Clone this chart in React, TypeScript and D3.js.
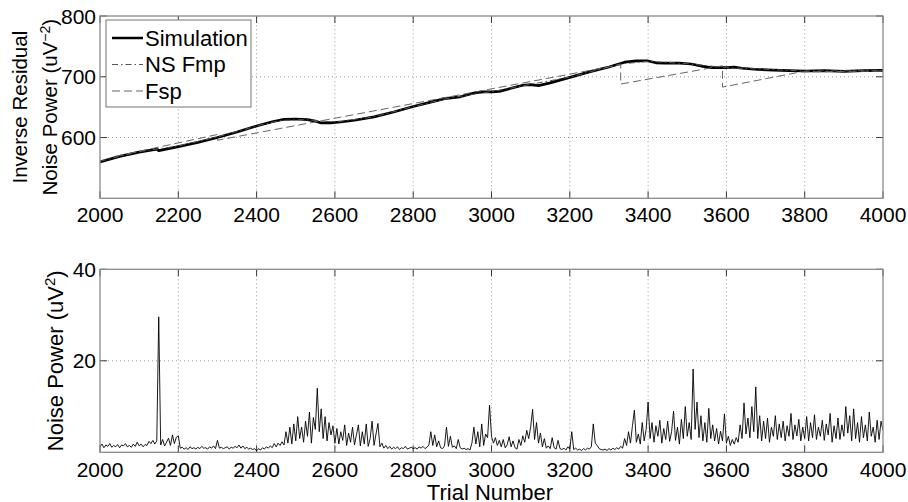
import React from 'react';
import * as d3 from 'd3';

const xTicks = [2000, 2200, 2400, 2600, 2800, 3000, 3200, 3400, 3600, 3800, 4000];
const topYTicks = [600, 700, 800];
const botYTicks = [20, 40];

const simTrials = [2000, 2050, 2100, 2145, 2150, 2200, 2250, 2300, 2350, 2400, 2440, 2470, 2500, 2530, 2550, 2565, 2590, 2620, 2650, 2700, 2750, 2800, 2850, 2880, 2920, 2960, 2980, 3000, 3020, 3050, 3080, 3100, 3120, 3150, 3200, 3250, 3300, 3340, 3370, 3400, 3420, 3440, 3480, 3510, 3540, 3560, 3580, 3600, 3620, 3640, 3680, 3720, 3760, 3800, 3850, 3900, 3950, 4000];
const simValues = [560, 569, 576, 581, 578.5, 585, 592, 600, 609, 619, 626, 630, 630.5, 629.5, 627, 624, 624, 626, 628.5, 634, 642, 651, 659, 664, 667, 674, 675, 675, 676, 681, 686, 687, 685.5, 690, 699, 708, 716, 724, 726, 726, 723, 722.5, 722.5, 721, 717, 715, 715.5, 715, 716, 714, 712, 711, 710, 709.5, 710, 709, 710, 710.5];

const nsFmpTrials = [2000, 2100, 2200, 2300, 2400, 2460, 2520, 2600, 2700, 2800, 2900, 3000, 3100, 3200, 3330, 3400, 3500, 3600, 3800, 4000];
const nsFmpValues = [561, 577, 586, 601, 619, 628, 629.5, 625.5, 634, 651, 666, 675.5, 687.5, 699.5, 721, 725.5, 721.5, 715, 709.5, 710];

const fspTrials = [2040, 2300, 2300, 3330, 3330, 3590, 3590, 3790, 4000];
const fspValues = [569, 605, 595.5, 720, 688, 718, 683, 708, 709.5];

const noiseStart = 2000;
const noiseStep = 5;
const noise2000 = [1.2, 1.8, 1.0, 1.6, 1.3, 1.9, 1.1, 1.5, 1.2, 1.7, 1.0, 1.6, 1.4, 1.9, 1.2, 1.5, 1.1, 1.8, 1.3, 2.2, 1.4, 1.8, 1.2, 1.7, 1.5, 2.4, 1.9, 2.6, 1.8, 2.5, 29.6, 1.6, 2.8, 1.4, 2.2, 3.1, 1.5, 3.8, 1.9, 3.3];
const noise2200 = [3.6, 0.9, 1.1, 0.7, 1.0, 0.6, 1.2, 0.8, 1.0, 0.7, 1.1, 0.8, 1.3, 0.9, 1.0, 0.7, 1.2, 0.9, 1.4, 0.8, 2.6, 0.9, 1.1, 0.8, 1.0, 1.2, 0.7, 1.1, 0.9, 1.3, 1.0, 1.6, 0.9, 1.4, 0.8, 1.1, 0.7, 0.9, 0.6, 0.8];
const noise2400 = [0.3, 0.8, 0.5, 1.0, 0.7, 1.2, 0.9, 1.4, 1.0, 1.9, 1.2, 2.0, 1.5, 2.3, 1.6, 4.5, 2.0, 5.5, 1.8, 6.2, 2.5, 7.8, 3.0, 5.5, 2.2, 6.8, 3.5, 8.8, 2.0, 7.6, 5.0, 14.0, 4.5, 9.5, 3.0, 7.8, 2.5, 6.5, 3.8, 5.8];
const noise2600 = [2.0, 5.2, 1.8, 4.5, 2.6, 6.0, 1.5, 4.2, 2.2, 5.5, 1.6, 3.8, 6.0, 1.4, 4.5, 1.8, 6.2, 1.3, 3.0, 6.8, 1.5, 4.0, 6.3, 1.2, 2.0, 0.9, 1.5, 0.8, 1.3, 0.7, 1.1, 0.8, 1.2, 0.6, 1.0, 0.8, 1.3, 0.7, 0.9, 1.1];
const noise2800 = [0.8, 1.0, 0.7, 1.2, 0.9, 1.3, 0.8, 1.1, 1.6, 4.5, 1.5, 3.8, 1.2, 2.5, 1.0, 0.8, 1.4, 5.5, 1.3, 3.5, 1.1, 1.4, 0.8, 2.8, 1.0, 0.7, 0.9, 0.6, 0.8, 0.5, 2.0, 5.5, 1.8, 4.5, 1.2, 6.2, 1.5, 4.0, 3.2, 10.3];
const noise3000 = [3.5, 2.0, 3.2, 1.5, 2.6, 1.2, 2.8, 1.0, 1.6, 3.4, 1.2, 2.5, 1.0, 0.7, 2.8, 1.5, 3.6, 2.2, 4.8, 3.0, 5.5, 9.4, 2.8, 6.5, 2.0, 4.2, 1.2, 3.0, 0.9, 1.4, 0.8, 3.2, 1.0, 0.7, 2.6, 0.8, 0.6, 0.9, 0.5, 1.2];
const noise3200 = [0.7, 4.5, 0.6, 0.9, 0.5, 0.7, 0.4, 0.8, 0.5, 0.9, 0.7, 1.2, 6.2, 2.0, 1.5, 0.8, 0.6, 0.5, 0.7, 0.4, 0.8, 0.5, 0.9, 0.6, 1.0, 0.7, 1.3, 0.9, 3.0, 1.5, 4.5, 2.0, 5.8, 9.2, 2.2, 4.0, 1.8, 6.5, 2.5, 5.0];
const noise3400 = [11.0, 3.0, 6.5, 2.2, 5.8, 3.5, 7.0, 2.0, 5.2, 2.8, 6.8, 2.4, 4.5, 9.0, 2.6, 5.5, 1.8, 7.2, 3.0, 10.0, 3.5, 6.5, 2.8, 18.2, 5.0, 11.0, 3.2, 8.0, 2.5, 6.5, 2.2, 9.6, 3.0, 6.0, 2.5, 5.2, 1.8, 4.6, 2.5, 8.4];
const noise3600 = [2.0, 3.5, 1.5, 2.8, 1.8, 3.2, 2.2, 6.0, 3.0, 10.8, 4.0, 7.5, 3.2, 10.0, 4.5, 14.3, 3.0, 8.0, 2.5, 6.8, 3.0, 7.5, 2.2, 5.5, 3.5, 8.0, 2.8, 6.2, 3.2, 6.8, 2.5, 5.8, 3.5, 8.5, 2.8, 6.0, 3.6, 7.2, 2.5, 5.5];
const noise3800 = [3.0, 7.8, 2.5, 6.5, 3.2, 8.2, 2.8, 5.5, 3.5, 7.0, 2.6, 6.2, 3.8, 8.5, 2.2, 5.8, 3.0, 7.5, 2.8, 6.0, 3.5, 10.0, 4.2, 8.0, 2.5, 9.5, 3.0, 6.5, 2.2, 7.8, 3.2, 6.0, 2.5, 8.8, 3.5, 5.5, 2.2, 7.0, 2.8, 6.8, 4.8];

const legendLabels = ['Simulation', 'NS Fmp', 'Fsp'];

const FONT = "'Liberation Sans', Arial, Helvetica, sans-serif";

export default function App() {
  const W = 908, H = 502;
  const x = d3.scaleLinear().domain([2000, 4000]).range([100, 883]);
  const yTop = d3.scaleLinear().domain([500, 800]).range([198.3, 16]);
  const yBot = d3.scaleLinear().domain([0, 40]).range([452.3, 269.3]);

  const pair = (ts: number[], vs: number[]) => ts.map((t, i) => [t, vs[i]] as [number, number]);
  const lineTop = d3.line<[number, number]>().x(d => x(d[0])).y(d => yTop(d[1]));
  const lineBot = d3.line<[number, number]>().x(d => x(d[0])).y(d => yBot(d[1]));

  const noiseAll = [...noise2000, ...noise2200, ...noise2400, ...noise2600, ...noise2800, ...noise3000, ...noise3200, ...noise3400, ...noise3600, ...noise3800];
  const noisePts = noiseAll.map((v, i) => [noiseStart + i * noiseStep, v] as [number, number]);

  const tickLen = 7;
  const gridColor = '#9a9a9a';
  const frameColor = '#8a8a8a';
  const tickColor = '#3a3a3a';

  const renderAxes = (y: d3.ScaleLinear<number, number>, yTicks: number[], labelBaseline: number) => {
    const [y0, y1] = y.range();
    const x0 = x.range()[0], x1 = x.range()[1];
    return (
      <g>
        {xTicks.filter(t => t !== 2000 && t !== 4000).map(t => (
          <line key={'gx' + t} x1={x(t)} x2={x(t)} y1={y0} y2={y1} stroke={gridColor} strokeWidth={1} strokeDasharray="1 3" />
        ))}
        {yTicks.filter(t => y(t) > y1 + 1).map(t => (
          <line key={'gy' + t} x1={x0} x2={x1} y1={y(t)} y2={y(t)} stroke={gridColor} strokeWidth={1} strokeDasharray="1 3" />
        ))}
        {xTicks.map(t => (
          <g key={'tx' + t}>
            <line x1={x(t)} x2={x(t)} y1={y0} y2={y0 - tickLen} stroke={tickColor} strokeWidth={1} />
            <line x1={x(t)} x2={x(t)} y1={y1} y2={y1 + tickLen} stroke={tickColor} strokeWidth={1} />
            <text x={x(t)} y={labelBaseline} textAnchor="middle" fontSize={21} fontFamily={FONT} fill="#000">{t}</text>
          </g>
        ))}
        {yTicks.map(t => (
          <g key={'ty' + t}>
            <line x1={x0} x2={x0 + tickLen} y1={y(t)} y2={y(t)} stroke={tickColor} strokeWidth={1} />
            <line x1={x1} x2={x1 - tickLen} y1={y(t)} y2={y(t)} stroke={tickColor} strokeWidth={1} />
            <text x={96} y={y(t) + 7.5} textAnchor="end" fontSize={21} fontFamily={FONT} fill="#000">{t}</text>
          </g>
        ))}
      </g>
    );
  };

  const topMidY = (yTop.range()[0] + yTop.range()[1]) / 2;
  const botMidY = (yBot.range()[0] + yBot.range()[1]) / 2;

  const legendStyles = [
    { stroke: '#000', width: 2.5, dash: undefined as string | undefined },
    { stroke: '#555', width: 1, dash: '6 3 1.5 3' },
    { stroke: '#666', width: 1, dash: '8 4' },
  ];

  return (
    <svg width={W} height={H} viewBox={`0 0 ${W} ${H}`} style={{ position: 'absolute', left: 0, top: 0, background: '#fff' }}>
      <defs>
        <clipPath id="clipTop"><rect x={100} y={16} width={783} height={182.3} /></clipPath>
        <clipPath id="clipBot"><rect x={100} y={269.3} width={783} height={183} /></clipPath>
      </defs>
      <rect x={0} y={0} width={W} height={H} fill="#fff" />

      {/* Top panel */}
      {renderAxes(yTop, topYTicks, 221.5)}
      <g clipPath="url(#clipTop)">
        <path d={lineTop(pair(simTrials, simValues)) || ''} fill="none" stroke="#000" strokeWidth={2.7} strokeLinejoin="round" />
        <path d={lineTop(pair(nsFmpTrials, nsFmpValues)) || ''} fill="none" stroke="#555" strokeWidth={1} strokeDasharray="6 3 1.5 3" />
        <path d={lineTop(pair(fspTrials, fspValues)) || ''} fill="none" stroke="#666" strokeWidth={1} strokeDasharray="8 4" />
      </g>
      <rect x={100} y={16} width={783} height={182.3} fill="none" stroke={frameColor} strokeWidth={1.3} />

      {/* Legend */}
      <rect x={106} y={20} width={145} height={87} fill="#fff" stroke={frameColor} strokeWidth={1.2} />
      {legendLabels.map((lab, i) => {
        const cy = 38 + i * 26.5;
        const s = legendStyles[i];
        return (
          <g key={lab}>
            <line x1={112} x2={143} y1={cy} y2={cy} stroke={s.stroke} strokeWidth={s.width} strokeDasharray={s.dash} />
            <text x={145} y={cy + 7.6} fontSize={22} fontFamily={FONT} fill="#000">{lab}</text>
          </g>
        );
      })}

      {/* Top y label */}
      <text transform={`translate(27, ${topMidY}) rotate(-90)`} textAnchor="middle" fontSize={20.5} fontFamily={FONT} fill="#000">Inverse Residual</text>
      <text transform={`translate(57, ${topMidY}) rotate(-90)`} textAnchor="middle" fontSize={20.5} fontFamily={FONT} fill="#000">
        Noise Power (uV<tspan dy={-7.5} fontSize={14}>−2</tspan><tspan dy={7.5}>)</tspan>
      </text>

      {/* Bottom panel */}
      {renderAxes(yBot, botYTicks, 477)}
      <g clipPath="url(#clipBot)">
        <path d={lineBot(noisePts) || ''} fill="none" stroke="#000" strokeWidth={0.9} strokeLinejoin="miter" />
      </g>
      <rect x={100} y={269.3} width={783} height={183} fill="none" stroke={frameColor} strokeWidth={1.3} />

      <text transform={`translate(63, ${botMidY}) rotate(-90)`} textAnchor="middle" fontSize={22} fontFamily={FONT} fill="#000">
        Noise Power (uV<tspan dy={-8} fontSize={15}>2</tspan><tspan dy={8}>)</tspan>
      </text>

      <text x={490} y={499.5} textAnchor="middle" fontSize={22} fontFamily={FONT} fill="#000">Trial Number</text>
    </svg>
  );
}
